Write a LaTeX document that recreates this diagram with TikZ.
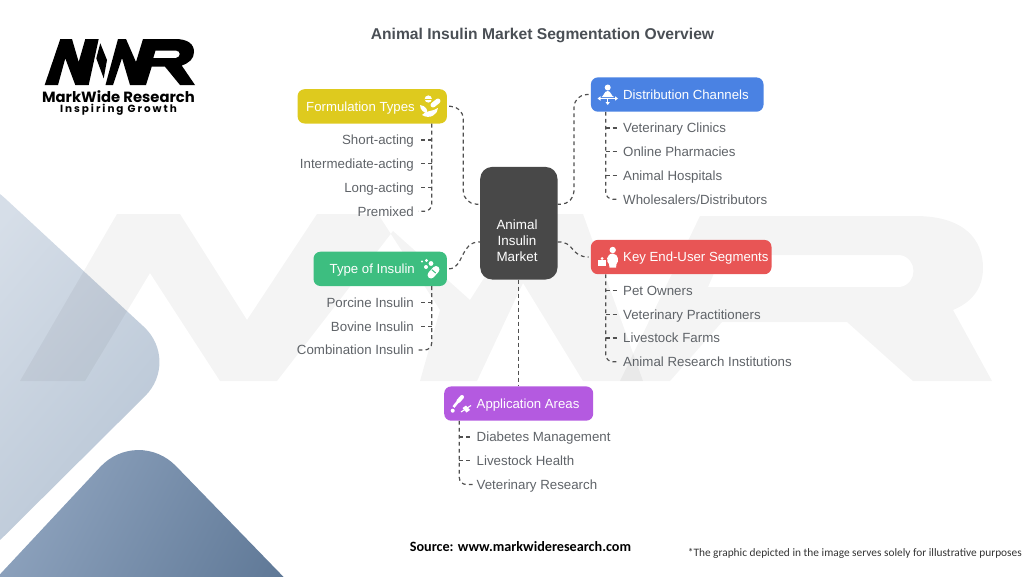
\documentclass[tikz,border=0pt]{standalone}
\usepackage{fontspec}
\setmainfont{Liberation Sans}
\newfontfamily\logofont{Poppins}[BoldFont=Poppins Bold]
\newfontfamily\logospaced{Poppins}[LetterSpace=19,BoldFont=Poppins Bold]
\newfontfamily\srcfont{Carlito}
\definecolor{linkc}{HTML}{505050}
\definecolor{itemc}{HTML}{5F6368}
\definecolor{titlec}{HTML}{4A4F55}
\definecolor{cyellow}{HTML}{DECA1E}
\definecolor{cblue}{HTML}{4A82E3}
\definecolor{cgreen}{HTML}{3DBE80}
\definecolor{cred}{HTML}{E85555}
\definecolor{cpurple}{HTML}{B45AE0}
\definecolor{ccenter}{HTML}{484848}
\definecolor{lighta}{HTML}{D6DEE8}
\definecolor{lightb}{HTML}{B6C4D4}
\definecolor{darka}{HTML}{98ACC6}
\definecolor{darkb}{HTML}{56708F}
\tikzset{
  x=1pt,y=-1pt,
  head/.style={rounded corners=7pt,inner xsep=0pt,inner ysep=0pt,anchor=north west,minimum height=34.3pt,text height=9.5pt,text depth=0pt,align=flush left,font=\fontsize{13.2}{15}\selectfont,text=white},
  itemr/.style={inner sep=0pt,anchor=east,text height=9.6pt,text depth=0pt,font=\fontsize{13.3}{15}\selectfont,text=itemc},
  iteml/.style={inner sep=0pt,anchor=west,text height=9.6pt,text depth=0pt,font=\fontsize{13.3}{15}\selectfont,text=itemc},
  link/.style={draw=linkc,line width=1.2pt,dash pattern=on 3.8pt off 3.2pt},
  wm/.style={fill=black,fill opacity=0.045,draw=none},
  ico/.style={fill=white,draw=none},
  icol/.style={draw=white,line width=1.1pt,fill=none},
  logoshape/.style={fill=black,draw=none}
}
\begin{document}
\begin{tikzpicture}
\useasboundingbox (0,0) rectangle (1024,576);
\clip (0,0) rectangle (1024,576);
% background shapes
\path[top color=lighta,bottom color=lightb,shading angle=50,rounded corners=50pt]
  (-32,164) -- (180.6,360.8) -- (-32,572) -- cycle;
\path[top color=darka,bottom color=darkb,shading angle=62,rounded corners=55pt]
  (-80,660) -- (137.8,426.7) -- (370,666) -- cycle;
% watermark
\path[wm] (20,381) -- (117,214) -- (180,214) -- (247,320) -- (317,214) -- (378,214) -- (440,310) -- (420,381) -- (477,381) -- (523,283) -- (583,381) -- (643,381) -- (583,214) -- (525,214) -- (470,300) -- (393,231) -- (277,381) -- (220,381) -- (150,273) -- (85,381) -- cycle;
\path[wm,even odd rule] (620,381) -- (700,216) -- (915,216) .. controls (965,216) and (983,240) .. (983,268) .. controls (983,290) and (970,303) .. (953,310) -- (992,381) -- (913,381) -- (847,322) -- (722,322) -- (670,381) -- cycle
  (722,255) -- (900,255) .. controls (918,258) and (918,284) .. (900,287) -- (708,287) -- cycle;
% logo
\path[logoshape] (44.7,85) -- (60.3,39) -- (72,39) -- (78.7,62) -- (85.3,39) -- (98.7,39) -- (88.7,85) -- (75.3,85) -- (65.3,58.3) -- (58,85) -- cycle;
\path[logoshape] (100.3,43.3) -- (107,60) -- (103.7,78.3) -- (96.3,58.3) -- cycle;
\path[logoshape,even odd rule] (105.5,85) -- (118,39) -- (126,39) -- (136,62) -- (143,39) -- (175,39) .. controls (188,39) and (194,44) .. (194,52) .. controls (194,59) and (189,63) .. (181.7,65.5) -- (195,85) -- (180,85) -- (165,66.7) -- (151.7,66.7) -- (146,85) -- (130,85) -- (122,58) -- (113,85) -- cycle
  (155.5,50.5) -- (176,50.5) .. controls (181,51) and (181,57) .. (176,58) -- (153.3,58) -- cycle;
\node[inner sep=0pt,font=\logofont\bfseries\fontsize{14.8}{16}\selectfont,text=black] (brand) at (118.5,96.8) {MarkWide Research};
\node[inner sep=0pt,font=\logospaced\bfseries\fontsize{10.4}{12}\selectfont,text=black] (tag) at (118.5,110) {Inspiring Growth};
% title
\node[inner sep=0pt,font=\bfseries\fontsize{15.64}{18}\selectfont,text=titlec] (title) at (542.5,35) {Animal Insulin Market Segmentation Overview};
% central node
\node[rounded corners=12pt,fill=ccenter,minimum width=77.3pt,minimum height=112.6pt,inner sep=0pt,anchor=north west] (ctr) at (480,166.7) {};
\node[inner sep=0pt,align=center,text=white,font=\fontsize{13.4}{16}\selectfont] (ctrlabel) at (517,241) {Animal\\Insulin\\Market};
\coordinate (cw1) at ([yshift=19pt]ctr.west);
\coordinate (cw2) at ([yshift=-18.7pt]ctr.west);
\coordinate (ce1) at ([yshift=19pt]ctr.east);
\coordinate (ce2) at ([yshift=-18.7pt]ctr.east);
% category nodes
\node[head,fill=cyellow,text width=149.3pt] (form) at (297.4,89) {\mbox{\hspace*{8.6pt}Formulation Types}};
\node[head,fill=cblue,text width=172.6pt] (dist) at (590.7,77.2) {\mbox{\hspace*{32.3pt}Distribution Channels}};
\node[head,fill=cgreen,text width=133.4pt] (type) at (313.3,251.5) {\mbox{\hspace*{16.2pt}Type of Insulin}};
\node[head,fill=cred,text width=180.6pt] (key) at (590.7,239.7) {\mbox{\hspace*{32.3pt}Key End-User Segments}};
\node[head,fill=cpurple,text width=149pt] (app) at (444,386.2) {\mbox{\hspace*{32.5pt}Application Areas}};
% items
\node[itemr] (f1) at (414,140) {Short-acting};
\node[itemr] (f2) at (414,163.7) {Intermediate-acting};
\node[itemr] (f3) at (414,187.5) {Long-acting};
\node[itemr] (f4) at (414,211.2) {Premixed};
\node[iteml] (d1) at (623,128) {Veterinary Clinics};
\node[iteml] (d2) at (623,151.7) {Online Pharmacies};
\node[iteml] (d3) at (623,175.5) {Animal Hospitals};
\node[iteml] (d4) at (623,199.2) {Wholesalers/Distributors};
\node[itemr] (t1) at (414,302.5) {Porcine Insulin};
\node[itemr] (t2) at (414,326.2) {Bovine Insulin};
\node[itemr] (t3) at (414,350) {Combination Insulin};
\node[iteml] (k1) at (623,290.5) {Pet Owners};
\node[iteml] (k2) at (623,314.2) {Veterinary Practitioners};
\node[iteml] (k3) at (623,338) {Livestock Farms};
\node[iteml] (k4) at (623,361.7) {Animal Research Institutions};
\node[iteml] (a1) at (476.5,437) {Diabetes Management};
\node[iteml] (a2) at (476.5,460.7) {Livestock Health};
\node[iteml] (a3) at (476.5,484.5) {Veterinary Research};
% main connectors
\draw[link,rounded corners=13pt,shorten <=2pt] (form.east) -- (463.3,106.15) -- (463.3,204) -- (cw1);
\draw[link,rounded corners=13pt,shorten <=2pt] (dist.west) -- (574,94.35) -- (574,204) -- (ce1);
\draw[link,shorten <=2pt] (type.east) .. controls (464,268.6) and (460,241.4) .. (cw2);
\draw[link,shorten >=2pt] (ce2) .. controls (575,241.4) and (570,256.9) .. (key.west);
\draw[link] (ctr.south) -- (ctr.south |- app.north);
% trunks
\coordinate (ft) at ([xshift=-15.4pt]form.south east);
\coordinate (dt) at ([xshift=15pt]dist.south west);
\coordinate (tt) at ([xshift=-15.4pt]type.south east);
\coordinate (kt) at ([xshift=15pt]key.south west);
\coordinate (apt) at ([xshift=15.3pt]app.south west);
\draw[link,rounded corners=7pt] (ft) -- (ft |- f4.east) -- ([xshift=4pt]f4.east);
\draw[link] (ft |- f1.east) -- ([xshift=5pt]f1.east);
\draw[link] (ft |- f2.east) -- ([xshift=5pt]f2.east);
\draw[link] (ft |- f3.east) -- ([xshift=5pt]f3.east);
\draw[link,rounded corners=7pt] (dt) -- (dt |- d4.west) -- ([xshift=-4pt]d4.west);
\draw[link] (dt |- d1.west) -- ([xshift=-5pt]d1.west);
\draw[link] (dt |- d2.west) -- ([xshift=-5pt]d2.west);
\draw[link] (dt |- d3.west) -- ([xshift=-5pt]d3.west);
\draw[link,rounded corners=7pt] (tt) -- (tt |- t3.east) -- ([xshift=4pt]t3.east);
\draw[link] (tt |- t1.east) -- ([xshift=5pt]t1.east);
\draw[link] (tt |- t2.east) -- ([xshift=5pt]t2.east);
\draw[link,rounded corners=7pt] (kt) -- (kt |- k4.west) -- ([xshift=-4pt]k4.west);
\draw[link] (kt |- k1.west) -- ([xshift=-5pt]k1.west);
\draw[link] (kt |- k2.west) -- ([xshift=-5pt]k2.west);
\draw[link] (kt |- k3.west) -- ([xshift=-5pt]k3.west);
\draw[link,rounded corners=7pt] (apt) -- (apt |- a3.west) -- ([xshift=-4pt]a3.west);
\draw[link] (apt |- a1.west) -- ([xshift=-5pt]a1.west);
\draw[link] (apt |- a2.west) -- ([xshift=-5pt]a2.west);
% icon: formulation
\fill[ico] (428.3,99) circle (3.6);
\draw[cyellow,line width=.7pt] (425,99) -- (431.7,99);
\draw[white,line width=5pt,line cap=round] (433,105) -- (438,101);
\fill[ico] (420,105) .. controls (426,106) and (428,110) .. (427,113) .. controls (424,113) and (420,110) .. (420,105) -- cycle;
\fill[ico] (422,115) .. controls (426,110) and (432,112) .. (438,108) .. controls (438,114) and (430,120) .. (422,115) -- cycle;
% icon: distribution
\fill[ico] (607.7,87.5) circle (3);
\fill[ico] (601.5,97) .. controls (604,96) and (604,91) .. (607.7,91) .. controls (611,91) and (611,96) .. (614,97) -- cycle;
\draw[icol] (599,98.5) -- (616.5,98.5);
\draw[icol] (607.7,98) -- (607.7,103);
\fill[ico] (597.5,98.5) -- (600.5,96.3) -- (600.5,100.7) -- cycle;
\fill[ico] (618,98.5) -- (615,96.3) -- (615,100.7) -- cycle;
\fill[ico] (607.7,105) -- (605.5,102) -- (609.9,102) -- cycle;
% icon: type
\draw[line width=7pt,line cap=round,white] (431,275) -- (436,269.5);
\fill[cgreen] (431.6,270.2) -- (435.4,273.4) -- (436,272.6) -- (432.2,269.4) -- cycle;
\fill[ico] (422,261.5) circle (1.2) (426.5,260.5) circle (1.6) (431,263.5) circle (2.4) (426,267) circle (2);
% icon: key users
\fill[ico] (612.7,250) circle (3.2);
\fill[ico] (612.7,253.5) .. controls (606,254) and (606,262) .. (609,264) -- (609.5,267.5) -- (616,267.5) -- (616.5,264) .. controls (619,262) and (619,254) .. (612.7,253.5) -- cycle;
\fill[ico] (598,260) rectangle (606,265.7);
\fill[ico] (602,258.5) circle (1.5);
% icon: application
\draw[white,line width=4pt,line cap=round] (458.5,401) -- (462,397);
\draw[white,line width=2.6pt] (458,401.5) -- (453.5,407);
\fill[ico] (452.7,410.7) circle (2);
\fill[ico] (462.5,408) -- (466,405.5) -- (470,410) -- (466.5,412.5) -- cycle;
\draw[icol] (461,412) -- (471,405.5);
% footer
\node[inner sep=0pt,font=\srcfont\bfseries\fontsize{14.2}{16}\selectfont,text=black] (src) at (520.5,547) {Source: www.markwideresearch.com};
\node[inner sep=0pt,anchor=east,font=\srcfont\fontsize{11.36}{13}\selectfont,text=black!80] (note) at (1022,553) {*The graphic depicted in the image serves solely for illustrative purposes};
\end{tikzpicture}
\end{document}
